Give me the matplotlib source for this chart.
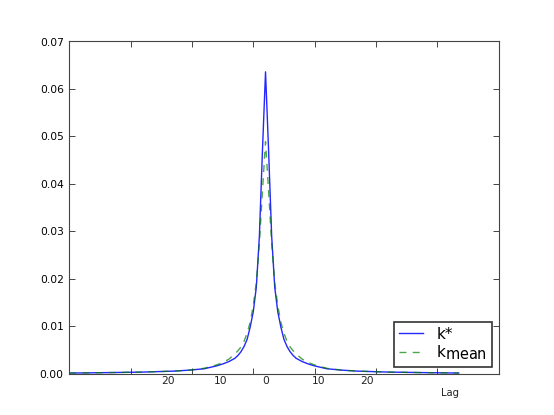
import numpy as np
import matplotlib
matplotlib.use('Agg')
import matplotlib.pyplot as plt
import matplotlib._mathtext as mt

# old-style legend: subscripts drawn nearly full size
mt.SHRINK_FACTOR = 0.95

# sample positions (peak at 64) and the two kernels
lag_pos = [0, 4, 14, 24, 34, 39, 44, 48, 50, 52, 54, 55, 56, 57, 58, 59, 60,
           61, 62, 63, 64, 65, 66, 67, 68, 69, 70, 71, 72, 73, 74, 76, 78, 80,
           84, 89, 94, 104, 114, 124, 127]
k_star = [0.0001, 0.00012, 0.0002, 0.0003, 0.0005, 0.0007, 0.0010, 0.0016,
          0.0020, 0.0025, 0.0032, 0.0038, 0.0046, 0.0057, 0.0072, 0.0098,
          0.0130, 0.0182, 0.0290, 0.0470, 0.0636, 0.0470, 0.0290, 0.0182,
          0.0130, 0.0098, 0.0072, 0.0057, 0.0046, 0.0038, 0.0032, 0.0025,
          0.0020, 0.0016, 0.0010, 0.0007, 0.0005, 0.0003, 0.0002, 0.00012,
          0.0001]
k_mean = [0.0001, 0.00012, 0.0002, 0.0003, 0.0005, 0.0007, 0.0011, 0.0018,
          0.0023, 0.0030, 0.0041, 0.0048, 0.0056, 0.0068, 0.0085, 0.0108,
          0.0143, 0.0192, 0.0275, 0.0385, 0.0489, 0.0385, 0.0275, 0.0192,
          0.0143, 0.0108, 0.0085, 0.0068, 0.0056, 0.0048, 0.0041, 0.0030,
          0.0023, 0.0018, 0.0011, 0.0007, 0.0005, 0.0003, 0.0002, 0.00012,
          0.0001]

# hand-placed lag labels under the axis
lag_label_pos = [32.3, 49.3, 64.0, 81.3, 97.2]
lag_labels = ['20', '10', '0', '10', '20']

fig = plt.figure(figsize=(5.54, 4.15), dpi=100)
ax = fig.add_axes([0.125, 0.1, 0.775, 0.8])

ax.plot(lag_pos, k_star, color='b', lw=1.0, alpha=0.85, label='k*')
ax.plot(lag_pos, k_mean, color='g', lw=1.0, ls='--', alpha=0.7,
        dashes=(5, 4.5), label=r'$\mathregular{k_{mean}}$')

ax.set_xlim(0, 140)
ax.set_ylim(0, 0.07)
ax.set_xticks(np.arange(0, 141, 20))
ax.set_xticklabels([])
ax.set_yticks(np.arange(0, 0.071, 0.01))
ax.set_yticklabels(['%.2f' % v for v in np.arange(0, 0.071, 0.01)])
ax.tick_params(direction='in', top=True, right=True, length=4, width=0.7,
               labelsize=7.7, pad=4, color='#444444')
for s in ax.spines.values():
    s.set_linewidth(0.8)
    s.set_color('#444444')

tr = ax.get_xaxis_transform()
for p, t in zip(lag_label_pos, lag_labels):
    ax.text(p, -0.023, t, transform=tr, ha='center', va='center', fontsize=7.7,
            color='#222222')
ax.text(124, -0.058, 'Lag', transform=tr, ha='center', va='center', fontsize=7.2,
        color='#222222')

leg = ax.legend(loc='lower right', fontsize=11, fancybox=False, framealpha=1,
                edgecolor='#333333', handlelength=1.6, borderaxespad=0.45,
                borderpad=0.3, labelspacing=0.12, handletextpad=0.85)
leg.get_frame().set_linewidth(1.2)

fig.savefig('out.png', dpi=100)
